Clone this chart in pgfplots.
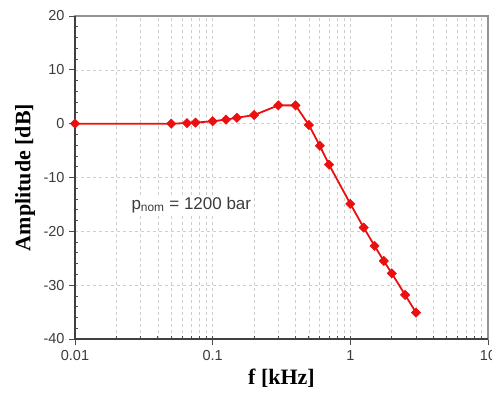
\documentclass[border=0pt]{standalone}
\usepackage{pgfplots}
\pgfplotsset{compat=1.18}
\usepackage{fontspec}
\setmainfont{Liberation Sans}
\newfontfamily\serifbf{Liberation Serif}
\definecolor{myred}{RGB}{235,15,15}
\definecolor{gridgray}{RGB}{205,205,205}
\definecolor{txt}{RGB}{60,60,60}
\begin{document}
\begin{tikzpicture}
\useasboundingbox (-75pt,-57pt) rectangle (417pt,339pt);
\begin{axis}[
  at={(0pt,0pt)}, anchor=south west,
  scale only axis, width=413pt, height=323pt,
  xmode=log, xmin=0.01, xmax=10, ymin=-40, ymax=20,
  xtick={0.01,0.1,1,10}, xticklabels={0.01,0.1,1,10},
  ytick={-40,-30,-20,-10,0,10,20},
  minor y tick num=4,
  xtick pos=bottom, ytick pos=left,
  tick align=outside,
  major tick length=6pt, minor tick length=-3pt,
  tick style={black!70, line width=0.8pt},
  xmajorgrids, xminorgrids, ymajorgrids,
  major grid style={gridgray, dashed, line width=0.6pt},
  minor grid style={gridgray, dashed, line width=0.6pt},
  axis line style={draw=gray!85, line width=1.2pt},
  /pgf/number format/assume math mode=true,
  ticklabel style={font=\fontsize{14.5}{16}\selectfont, text=txt},
  yticklabel style={xshift=-1pt},
  xticklabel style={yshift=-2pt},
  xlabel={f [kHz]}, ylabel={Amplitude [dB]},
  every axis x label/.style={at={(axis description cs:0.5,0)}, yshift=-39pt, anchor=center, font=\serifbf\bfseries\fontsize{22}{24}\selectfont},
  every axis y label/.style={at={(axis description cs:0,0.5)}, xshift=-50pt, rotate=90, anchor=center, font=\serifbf\bfseries\fontsize{22}{24}\selectfont},
  clip=false,
]
\addplot[myred, line width=1.8pt, mark=square*, mark size=3.3pt, mark options={rotate=45, fill=myred, draw=myred, line width=0.5pt}] coordinates {
(0.01,0) (0.05,0) (0.065,0.1) (0.075,0.2) (0.1,0.45) (0.125,0.75) (0.15,1.1)
(0.2,1.6) (0.3,3.4) (0.4,3.4) (0.5,-0.25) (0.6,-4.1) (0.7,-7.6)
(1,-14.9) (1.25,-19.3) (1.5,-22.7) (1.75,-25.5) (2,-27.8) (2.5,-31.8) (3,-35.1)
};
\node[fill=white, text=txt, font=\fontsize{17}{19}\selectfont, inner sep=2pt] at (axis cs:0.07,-15.1) {p\textsubscript{nom} = 1200 bar};
\draw[black!75, line width=1.5pt] (rel axis cs:0,1) -- (rel axis cs:0,0) -- (rel axis cs:1,0);
\end{axis}
\end{tikzpicture}
\end{document}
